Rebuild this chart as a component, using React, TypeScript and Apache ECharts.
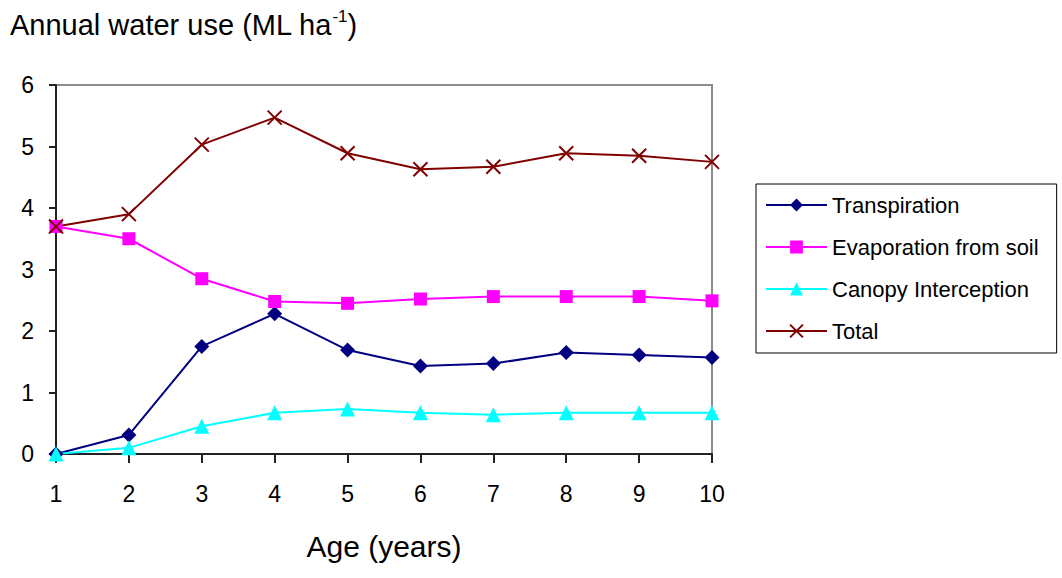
import React, { useEffect, useRef } from "react";
import * as echarts from "echarts";

// Stand age (years)
const ages = [1, 2, 3, 4, 5, 6, 7, 8, 9, 10];

// Annual water use components (ML ha-1)
const transpiration = [0, 0.31, 1.75, 2.28, 1.69, 1.43, 1.47, 1.65, 1.61, 1.57];
const evaporation = [3.7, 3.5, 2.85, 2.48, 2.45, 2.52, 2.56, 2.56, 2.56, 2.49];
const interception = [0, 0.1, 0.45, 0.67, 0.73, 0.67, 0.64, 0.67, 0.67, 0.67];
const total = [3.7, 3.9, 5.03, 5.47, 4.89, 4.63, 4.67, 4.89, 4.85, 4.75];

const seriesNames = ["Transpiration", "Evaporation from soil", "Canopy Interception", "Total"];
const yTicks = [0, 1, 2, 3, 4, 5, 6];

const FONT = "'Liberation Sans', Arial, sans-serif";
const CROSS = "path://M0,0L10,10M10,0L0,10";

function pairs(values: number[]) {
  return ages.map((a, i) => [a, values[i]]);
}

export default function App() {
  const ref = useRef<HTMLDivElement>(null);

  useEffect(() => {
    if (!ref.current) return;
    const chart = echarts.init(ref.current, undefined, { renderer: "svg" });

    const mk = (
      name: string,
      values: number[],
      color: string,
      symbol: string,
      symbolSize: number,
      extra: any = {}
    ) => ({
      name,
      type: "line",
      data: pairs(values),
      symbol,
      symbolSize,
      showSymbol: true,
      lineStyle: { color, width: 2 },
      itemStyle: { color, ...extra },
      z: 3,
    });

    chart.setOption({
      animation: false,
      textStyle: { fontFamily: FONT },
      title: {
        left: 5,
        top: 3,
        text: "{a|Annual water use (ML ha}{s|-1}{a|)}",
        textStyle: {
          fontWeight: "normal",
          rich: {
            a: { fontSize: 29, fontFamily: FONT, fontWeight: "normal", color: "#000", lineHeight: 34 },
            s: {
              fontSize: 17,
              fontFamily: FONT,
              fontWeight: "normal",
              color: "#000",
              verticalAlign: "top",
              lineHeight: 22,
            },
          },
        },
      },
      grid: {
        left: 56,
        top: 85,
        width: 656,
        height: 369,
        show: true,
        borderColor: "#8c8c8c",
        borderWidth: 2,
        backgroundColor: "#fff",
      },
      legend: {
        orient: "vertical",
        left: 756,
        top: 184,
        padding: [10, 18, 11, 9],
        itemGap: 20,
        itemWidth: 61,
        itemHeight: 16,
        borderColor: "#000",
        borderWidth: 1,
        data: seriesNames,
        textStyle: { fontSize: 22, fontFamily: FONT, color: "#000", lineHeight: 20 },
      },
      xAxis: {
        type: "value",
        min: 1,
        max: 10,
        interval: 1,
        name: "Age (years)",
        nameLocation: "middle",
        nameGap: 77,
        nameTextStyle: { fontSize: 30, fontFamily: FONT, color: "#000" },
        axisLine: { show: true, lineStyle: { color: "#222", width: 2 } },
        axisTick: { show: true, length: 9, lineStyle: { color: "#222", width: 2 } },
        axisLabel: { fontSize: 23, color: "#000", margin: 28, fontFamily: FONT },
        splitLine: { show: false },
      },
      yAxis: {
        type: "value",
        min: yTicks[0],
        max: yTicks[yTicks.length - 1],
        interval: 1,
        axisLine: { show: true, lineStyle: { color: "#222", width: 2 } },
        axisTick: { show: true, length: 7, lineStyle: { color: "#222", width: 2 } },
        axisLabel: { fontSize: 23, color: "#000", margin: 22, fontFamily: FONT },
        splitLine: { show: false },
      },
      series: [
        mk(seriesNames[0], transpiration, "#000080", "diamond", 15),
        mk(seriesNames[1], evaporation, "#ff00ff", "rect", 13),
        mk(seriesNames[2], interception, "#00ffff", "triangle", 15),
        mk(seriesNames[3], total, "#800000", CROSS, 14, {
          borderColor: "#800000",
          borderWidth: 2,
        }),
      ],
    });

    return () => chart.dispose();
  }, []);

  return (
    <div
      ref={ref}
      style={{ position: "absolute", left: 0, top: 0, width: 1062, height: 578, background: "#fff" }}
    />
  );
}
